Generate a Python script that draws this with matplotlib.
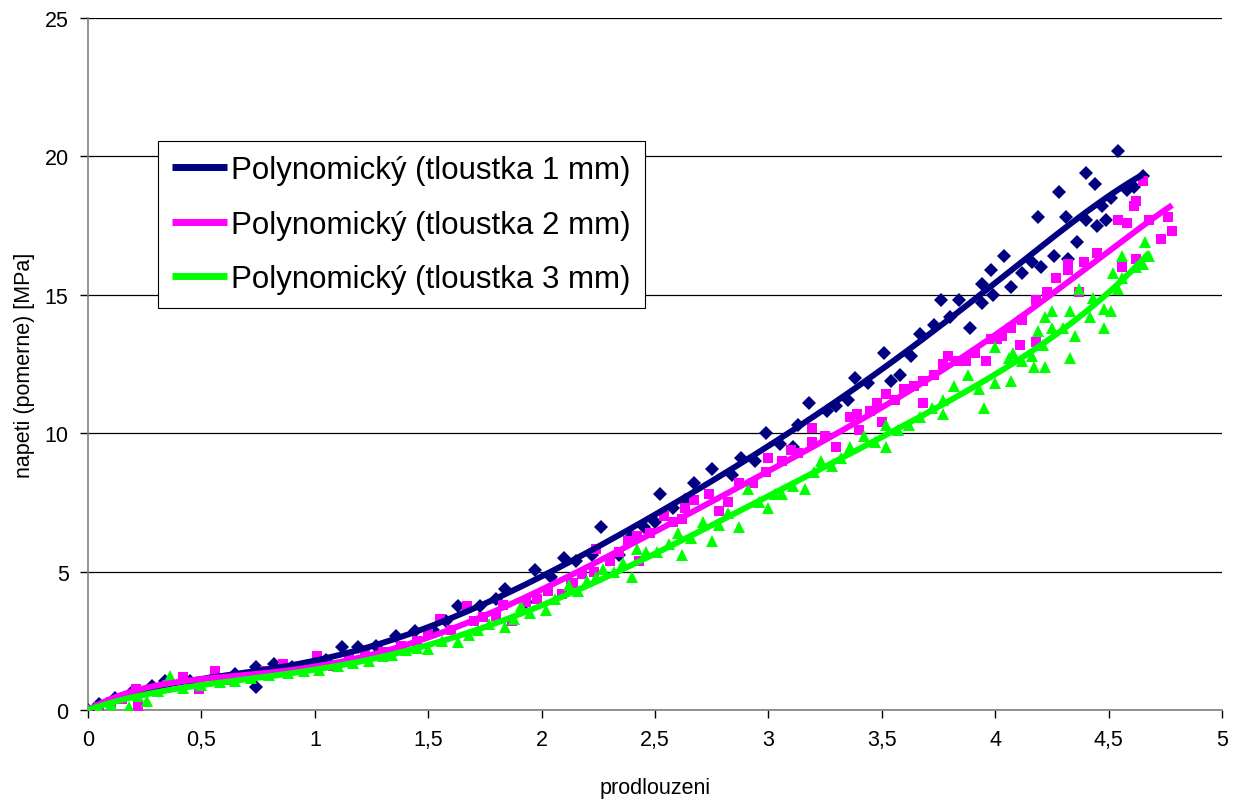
"""Stress vs elongation for three thicknesses, Excel-style scatter with polynomial trendlines."""
import matplotlib; matplotlib.use("Agg")
import matplotlib.pyplot as plt
from matplotlib.ticker import FuncFormatter
import numpy as np

plt.rcParams["font.family"] = ["Liberation Sans", "DejaVu Sans"]

# tloustka 1 mm (navy diamonds)
x1 = [0.0, 0.05, 0.12, 0.2, 0.28, 0.34, 0.45, 0.55, 0.65, 0.74,
      0.74, 0.82, 0.9, 1.0, 1.05, 1.12, 1.19, 1.27, 1.36, 1.44,
      1.52, 1.58, 1.63, 1.73, 1.8, 1.84, 1.93, 1.97, 2.04, 2.10,
      2.15, 2.22, 2.26, 2.34, 2.40, 2.45, 2.50, 2.52, 2.58, 2.63,
      2.67, 2.75, 2.84, 2.88, 2.94, 2.99, 3.05, 3.11, 3.13, 3.18,
      3.26, 3.30, 3.35, 3.38, 3.44, 3.51, 3.54, 3.58, 3.63, 3.67,
      3.73, 3.76, 3.80, 3.84, 3.89, 3.94, 3.94, 3.98, 3.99, 4.04,
      4.07, 4.12, 4.16, 4.19, 4.20, 4.26, 4.28, 4.31, 4.32, 4.36,
      4.40, 4.40, 4.44, 4.45, 4.47, 4.49, 4.51, 4.54, 4.58, 4.61,
      4.65]
y1 = [0.0, 0.2, 0.45, 0.7, 0.85, 1.05, 1.05, 1.15, 1.3, 1.55,
      0.83, 1.66, 1.55, 1.7, 1.8, 2.27, 2.27, 2.3, 2.68, 2.85,
      2.9, 3.2, 3.76, 3.76, 4.0, 4.37, 3.9, 5.06, 4.8, 5.5,
      5.4, 5.6, 6.6, 5.6, 6.3, 6.6, 6.8, 7.8, 7.3, 7.6,
      8.2, 8.7, 8.5, 9.1, 9.0, 10.0, 9.6, 9.5, 10.3, 11.1,
      10.8, 11.0, 11.2, 12.0, 11.8, 12.9, 11.9, 12.1, 12.8, 13.6,
      13.9, 14.8, 14.2, 14.8, 13.8, 14.7, 15.4, 15.9, 15.0, 16.4,
      15.3, 15.8, 16.2, 17.8, 16.0, 16.4, 18.7, 17.8, 16.3, 16.9,
      19.4, 17.7, 19.0, 17.5, 18.2, 17.7, 18.5, 20.2, 18.8, 18.9,
      19.3]

# tloustka 2 mm (magenta squares)
x2 = [0.0, 0.05, 0.1, 0.15, 0.21, 0.22, 0.28, 0.35, 0.42, 0.49,
      0.56, 0.62, 0.7, 0.78, 0.86, 0.92, 1.01, 1.08, 1.15, 1.22,
      1.3, 1.38, 1.45, 1.5, 1.55, 1.6, 1.67, 1.7, 1.74, 1.8,
      1.83, 1.87, 1.93, 1.98, 2.03, 2.09, 2.13, 2.14, 2.18, 2.23,
      2.24, 2.30, 2.34, 2.38, 2.42, 2.43, 2.48, 2.54, 2.58, 2.62,
      2.63, 2.67, 2.74, 2.78, 2.82, 2.87, 2.93, 2.99, 3.0, 3.06,
      3.10, 3.13, 3.19, 3.19, 3.25, 3.30, 3.36, 3.39, 3.40, 3.45,
      3.48, 3.50, 3.52, 3.56, 3.60, 3.64, 3.68, 3.68, 3.73, 3.77,
      3.79, 3.83, 3.87, 3.91, 3.96, 3.98, 4.01, 4.03, 4.07, 4.11,
      4.12, 4.18, 4.18, 4.23, 4.27, 4.32, 4.32, 4.37, 4.39, 4.45,
      4.54, 4.56, 4.58, 4.61, 4.62, 4.62, 4.65, 4.68, 4.73, 4.76,
      4.78]
y2 = [0.0, 0.1, 0.3, 0.4, 0.76, 0.15, 0.7, 0.9, 1.2, 0.76,
      1.4, 1.1, 1.2, 1.4, 1.66, 1.5, 1.95, 1.6, 1.9, 2.0,
      2.1, 2.3, 2.5, 2.8, 3.3, 2.9, 3.76, 3.2, 3.36, 3.4,
      3.8, 3.2, 3.9, 4.0, 4.3, 4.2, 4.6, 4.6, 4.9, 5.0,
      5.8, 5.4, 5.7, 6.1, 6.3, 5.4, 6.4, 7.0, 6.8, 6.9,
      7.3, 7.6, 7.8, 7.2, 7.5, 8.2, 8.2, 8.6, 9.1, 9.0,
      9.4, 9.3, 9.7, 10.2, 9.9, 9.5, 10.6, 10.7, 10.1, 10.8,
      11.1, 10.4, 11.4, 11.2, 11.6, 11.7, 11.9, 11.1, 12.1, 12.5,
      12.8, 12.6, 12.6, 12.9, 12.6, 13.4, 13.4, 13.5, 13.8, 13.2,
      14.1, 14.8, 13.3, 15.1, 15.6, 16.1, 15.9, 15.1, 16.2, 16.5,
      17.7, 16.0, 17.6, 18.2, 16.3, 18.4, 19.1, 17.7, 17.0, 17.8,
      17.3]

# tloustka 3 mm (green triangles)
x3 = [0.0, 0.05, 0.1, 0.18, 0.22, 0.26, 0.31, 0.36, 0.42, 0.5,
      0.58, 0.65, 0.72, 0.8, 0.88, 0.95, 1.02, 1.1, 1.17, 1.24,
      1.3, 1.34, 1.4, 1.45, 1.5, 1.56, 1.63, 1.68, 1.72, 1.77,
      1.84, 1.88, 1.91, 1.95, 2.02, 2.06, 2.12, 2.16, 2.20, 2.24,
      2.27, 2.32, 2.36, 2.40, 2.42, 2.46, 2.51, 2.56, 2.60, 2.62,
      2.66, 2.71, 2.75, 2.78, 2.82, 2.87, 2.91, 2.96, 3.0, 3.03,
      3.06, 3.11, 3.16, 3.2, 3.23, 3.28, 3.32, 3.36, 3.42, 3.47,
      3.52, 3.52, 3.57, 3.62, 3.67, 3.72, 3.77, 3.77, 3.82, 3.88,
      3.93, 3.95, 4.0, 4.0, 4.06, 4.07, 4.08, 4.12, 4.16, 4.17,
      4.19, 4.21, 4.22, 4.22, 4.25, 4.25, 4.30, 4.33, 4.33, 4.35,
      4.37, 4.42, 4.43, 4.48, 4.48, 4.51, 4.52, 4.54, 4.56, 4.56,
      4.62, 4.65, 4.66, 4.68]
y3 = [0.0, 0.05, 0.2, 0.1, 0.5, 0.33, 0.7, 1.23, 0.8, 0.9,
      1.0, 1.05, 1.15, 1.25, 1.35, 1.4, 1.45, 1.6, 1.7, 1.77,
      1.95, 2.0, 2.15, 2.25, 2.2, 2.5, 2.45, 2.7, 2.9, 3.1,
      3.0, 3.3, 3.76, 3.5, 3.6, 4.0, 4.5, 4.3, 4.66, 4.8,
      5.1, 5.0, 5.3, 4.8, 5.8, 5.7, 5.7, 6.0, 6.4, 5.6,
      6.2, 6.8, 6.1, 6.7, 7.1, 6.6, 8.0, 7.5, 7.3, 7.8,
      7.8, 8.1, 8.0, 8.6, 9.0, 8.8, 9.1, 9.5, 9.9, 9.7,
      10.3, 9.5, 10.1, 10.3, 10.6, 10.9, 11.2, 10.7, 11.7, 12.1,
      11.6, 10.9, 13.1, 11.8, 12.7, 11.9, 12.9, 12.6, 12.8, 12.4,
      13.7, 13.2, 14.2, 12.4, 14.4, 13.8, 13.8, 14.4, 12.7, 13.5,
      15.2, 14.2, 14.9, 14.5, 13.8, 14.4, 15.8, 15.2, 15.6, 16.4,
      16.0, 16.1, 16.9, 16.4]

labels = ["tloustka 1 mm", "tloustka 2 mm", "tloustka 3 mm"]
colors = ["#000080", "#FF00FF", "#00FF00"]
markers = ["D", "s", "^"]
msizes = [7.0, 7.5, 8.5]

fig = plt.figure(figsize=(12.42, 8.03), dpi=100)
ax = fig.add_axes([0.0709, 0.1146, 0.9130, 0.8617])

def polyfit0(xs, ys, deg=6):
    # polynomial trendline with intercept fixed at 0
    A = np.vstack([xs ** k for k in range(1, deg + 1)]).T
    c, *_ = np.linalg.lstsq(A, ys, rcond=None)
    return lambda t: sum(ck * t ** (k + 1) for k, ck in enumerate(c))

series = [(x1, y1), (x2, y2), (x3, y3)]
for (xs, ys), c, m, ms in zip(series, colors, markers, msizes):
    ax.plot(xs, ys, m, color=c, ms=ms, mew=0, zorder=3)
for (xs, ys), lab, c in zip(series, labels, colors):
    xs, ys = np.array(xs), np.array(ys)
    f = polyfit0(xs, ys)
    xf = np.linspace(xs.min(), xs.max(), 300)
    ax.plot(xf, f(xf), color=c, lw=4.3, zorder=4,
            solid_capstyle="butt", label=f"Polynomický ({lab})")

ax.set_xlim(0, 5); ax.set_ylim(0, 25)
ax.set_xticks(np.arange(0, 5.01, 0.5)); ax.set_yticks(np.arange(0, 26, 5))
ax.xaxis.set_major_formatter(FuncFormatter(lambda v, p: f"{v:g}".replace(".", ",")))
ax.yaxis.grid(True, color="black", lw=0.9)
ax.set_axisbelow(True)
for s in ("top", "right"):
    ax.spines[s].set_visible(False)
for s in ("left", "bottom"):
    ax.spines[s].set_color("#808080"); ax.spines[s].set_linewidth(1.2)
ax.tick_params(direction="out", length=6, width=1, color="black", labelsize=15.5, pad=8)
ax.set_xlabel("prodlouzeni", fontsize=15.5, labelpad=19)
ax.set_ylabel("napeti (pomerne) [MPa]", fontsize=15.5, labelpad=7)

leg = ax.legend(loc="upper left", bbox_to_anchor=(0.0617, 0.822), fontsize=22.5,
                frameon=True, fancybox=False, edgecolor="black", framealpha=1,
                handlelength=1.75, handletextpad=0.15, borderpad=0.45, labelspacing=0.78,
                borderaxespad=0)
leg.get_frame().set_linewidth(0.8)
for ln in leg.get_lines():
    ln.set_linewidth(5)

fig.savefig("out.png", dpi=100, facecolor="white")
print("wrote out.png")
